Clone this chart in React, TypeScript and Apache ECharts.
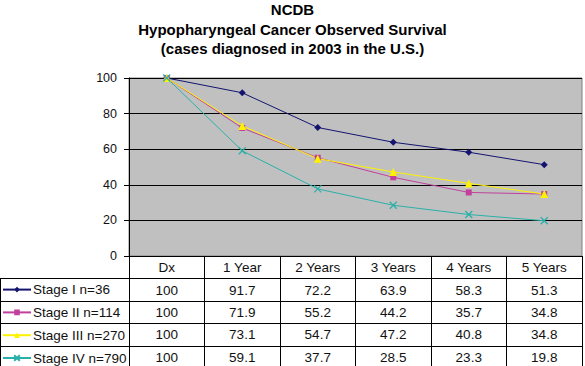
import React, { useEffect, useRef } from "react";
import * as echarts from "echarts";

const titleLines = [
  "NCDB",
  "Hypopharyngeal Cancer Observed Survival",
  "(cases diagnosed in 2003 in the U.S.)",
];
const categories = ["Dx", "1 Year", "2 Years", "3 Years", "4 Years", "5 Years"];
const seriesNames = ["Stage I n=36", "Stage II n=114", "Stage III n=270", "Stage IV n=790"];
const stage1 = [100, 91.7, 72.2, 63.9, 58.3, 51.3];
const stage2 = [100, 71.9, 55.2, 44.2, 35.7, 34.8];
const stage3 = [100, 73.1, 54.7, 47.2, 40.8, 34.8];
const stage4 = [100, 59.1, 37.7, 28.5, 23.3, 19.8];
const seriesData = [stage1, stage2, stage3, stage4];
const yTicks = [0, 20, 40, 60, 80, 100];

const colors = ["#141470", "#C0409C", "#FFF200", "#2AB0A8"];
const symbols = [
  "diamond",
  "rect",
  "triangle",
  "path://M0,0L10,10M10,0L0,10",
];
const symbolSizes = [7, 6, 8, 7];

const FONT = "'Liberation Sans', Arial, sans-serif";
const ROW_H = 22.4;
const PLOT_BOTTOM = 256;

export default function App() {
  const ref = useRef<HTMLDivElement>(null);
  useEffect(() => {
    if (!ref.current) return;
    const chart = echarts.init(ref.current, undefined, { renderer: "svg" });
    const fmt = (v: number) => (Number.isInteger(v) ? String(v) : v.toFixed(1));
    const hLines: any[] = [];
    for (let i = 1; i <= 4; i++) {
      const y = Math.round(PLOT_BOTTOM + ROW_H * i) + 0.5;
      hLines.push({
        type: "line",
        shape: { x1: 0, y1: y, x2: 583, y2: y },
        style: { stroke: "#000", lineWidth: 1 },
        silent: true,
      });
    }
    hLines.push({
      type: "line",
      shape: { x1: 0.5, y1: Math.round(PLOT_BOTTOM + ROW_H) + 0.5, x2: 0.5, y2: 366 },
      style: { stroke: "#000", lineWidth: 1 },
      silent: true,
    });
    chart.setOption({
      animation: false,
      backgroundColor: "#fff",
      title: {
        text: titleLines.join("\n"),
        left: "center",
        top: 0,
        padding: 0,
        textStyle: {
          fontFamily: FONT,
          fontSize: 15,
          fontWeight: "bold",
          color: "#000",
          lineHeight: 19.5,
        },
      },
      legend: {
        orient: "vertical",
        left: 2,
        top: PLOT_BOTTOM + ROW_H,
        height: 120,
        padding: 0,
        itemGap: 0.4,
        itemWidth: 28,
        itemHeight: 7,
        data: seriesNames,
        textStyle: {
          fontFamily: FONT,
          fontSize: 13.5,
          color: "#111",
          lineHeight: ROW_H,
          padding: [0, 0, 0, -3],
        },
      },
      grid: {
        left: 129,
        right: 3,
        top: 78,
        bottom: 366 - PLOT_BOTTOM,
        outerBoundsMode: "none",
        containLabel: false,
        show: true,
        backgroundColor: "#C0C0C0",
        borderColor: "#808080",
        borderWidth: 1,
      },
      xAxis: {
        type: "category",
        data: categories,
        boundaryGap: true,
        axisLine: { show: true, lineStyle: { color: "#000", width: 1 } },
        axisTick: {
          show: true,
          interval: 0,
          length: 366 - PLOT_BOTTOM,
          lineStyle: { color: "#000", width: 1 },
        },
        axisLabel: {
          interval: 0,
          margin: 0.5,
          fontFamily: FONT,
          fontSize: 13.5,
          color: "#111",
          lineHeight: ROW_H,
          verticalAlign: "top",
          formatter: (value: string, index: number) =>
            [value, ...seriesData.map((s) => fmt(s[index]))].join("\n"),
        },
        splitLine: { show: false },
      },
      yAxis: {
        type: "value",
        min: yTicks[0],
        max: yTicks[yTicks.length - 1],
        interval: 20,
        axisLine: { show: true, lineStyle: { color: "#000", width: 1 } },
        axisTick: { show: true, length: 5, lineStyle: { color: "#000" } },
        axisLabel: {
          margin: 12,
          fontFamily: FONT,
          fontSize: 12.5,
          color: "#111",
        },
        splitLine: { show: true, lineStyle: { color: "#000", width: 1 } },
      },
      graphic: hLines,
      series: seriesData.map((d, i) => ({
        name: seriesNames[i],
        type: "line",
        data: d,
        symbol: symbols[i],
        symbolSize: symbolSizes[i],
        showAllSymbol: true,
        lineStyle: { color: colors[i], width: 1 },
        itemStyle: {
          color: colors[i],
          borderColor: colors[i],
          borderWidth: i === 3 ? 1.3 : 0,
        },
      })),
    });
    return () => chart.dispose();
  }, []);
  return <div ref={ref} style={{ width: 585, height: 366, position: "absolute", left: 0, top: 0 }} />;
}
